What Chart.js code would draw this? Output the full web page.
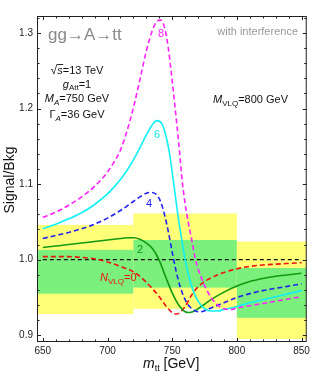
<!DOCTYPE html>
<html>
<head>
<meta charset="utf-8">
<script src="https://cdn.jsdelivr.net/npm/chart.js@4"></script>
<style>
  html, body { margin: 0; padding: 0; background: #fff; }
  canvas { display: block; }
</style>
</head>
<body>
<canvas id="chart" width="313" height="377"></canvas>
<script>
const FONT = '"Liberation Sans", Arial, sans-serif';

// tick labels
const xTicks = [650, 700, 750, 800, 850];
const yTicks = [0.9, 1.0, 1.1, 1.2, 1.3];

// expected background bands (1 sigma green, 2 sigma yellow), per m_tt bin
const binEdges = [645.5, 720, 800, 854];
const yellowLo = [0.928, 0.935, 0.895];
const yellowHi = [1.046, 1.061, 1.024];
const greenLo  = [0.955, 0.963, 0.923];
const greenHi  = [1.013, 1.026, 0.989];

// N_VLQ = 8
const m8 = [650,660,670,680,690,700,705,710,715,720,725,730,735,738,741,744,747,749,752,755,758,761,765,768,770,775,780,785,790,795,800,810,820,830,840,850];
const s8 = [1.056,1.063,1.072,1.083,1.097,1.116,1.129,1.145,1.170,1.201,1.238,1.276,1.305,1.315,1.317,1.308,1.280,1.252,1.205,1.155,1.100,1.063,1.027,1.000,0.988,0.966,0.950,0.940,0.935,0.934,0.936,0.939,0.942,0.945,0.948,0.951];

// N_VLQ = 6
const m6 = [650,660,670,680,690,700,705,710,715,720,725,730,734,738,742,745,748,751,755,758,760,763,766,770,775,780,785,790,800,810,820,830,840,850];
const s6 = [1.041,1.047,1.054,1.062,1.073,1.087,1.096,1.106,1.118,1.132,1.148,1.165,1.177,1.184,1.180,1.165,1.140,1.103,1.052,1.020,1.000,0.977,0.960,0.945,0.935,0.932,0.932,0.934,0.938,0.943,0.947,0.951,0.955,0.959];

// N_VLQ = 4
const m4 = [650,660,670,680,690,700,710,720,725,730,734,738,741,744,747,750,753,756,760,764,768,772,776,780,790,800,810,820,830,840,850];
const s4 = [1.028,1.032,1.036,1.041,1.047,1.055,1.065,1.077,1.083,1.088,1.089,1.086,1.077,1.060,1.037,1.010,0.985,0.965,0.947,0.937,0.932,0.931,0.933,0.936,0.943,0.950,0.955,0.959,0.962,0.965,0.968];

// N_VLQ = 2
const m2 = [650,660,670,680,690,700,710,715,720,725,730,735,740,745,750,755,760,763,766,770,775,780,790,800,810,820,830,840,850];
const s2 = [1.016,1.018,1.020,1.022,1.024,1.026,1.028,1.029,1.029,1.027,1.022,1.014,0.999,0.977,0.956,0.940,0.931,0.930,0.931,0.935,0.941,0.947,0.957,0.965,0.971,0.975,0.978,0.980,0.982];

// N_VLQ = 0
const m0 = [650,660,670,680,690,700,710,720,725,730,735,740,745,750,753,756,760,765,770,775,780,790,800,810,820,830,840,850];
const s0 = [1.004,1.004,1.004,1.003,1.001,0.997,0.991,0.984,0.978,0.970,0.961,0.951,0.939,0.930,0.928,0.930,0.938,0.953,0.964,0.971,0.976,0.983,0.988,0.991,0.993,0.994,0.995,0.996];

// reference line
const mRef = [650, 850];
const sRef = [1.0, 1.0];

function pts(xs, ys) {
  return xs.map((x, i) => ({ x: x, y: ys[i] }));
}

function curve(xs, ys, color, dashed) {
  return {
    data: pts(xs, ys),
    borderColor: color,
    borderWidth: 1.6,
    borderDash: dashed ? [5, 3] : [],
    pointRadius: 0,
    fill: false,
    cubicInterpolationMode: "monotone",
  };
}

// draw a line of text made of pieces [text, font, dy]
function rich(ctx, x, y, parts, align, color) {
  let w = 0;
  parts.forEach(p => { ctx.font = p[1]; w += ctx.measureText(p[0]).width; });
  let cx = align === "center" ? x - w / 2 : align === "right" ? x - w : x;
  ctx.fillStyle = color;
  ctx.textAlign = "left";
  ctx.textBaseline = "alphabetic";
  const starts = [];
  parts.forEach(p => {
    ctx.font = p[1];
    starts.push(cx);
    ctx.fillText(p[0], cx, y + (p[2] || 0));
    cx += ctx.measureText(p[0]).width;
  });
  starts.push(cx);
  return starts;
}

const bandsPlugin = {
  id: "bands",
  beforeDatasetsDraw(chart) {
    const { ctx, chartArea, scales: { x, y } } = chart;
    ctx.save();
    ctx.beginPath();
    ctx.rect(chartArea.left, chartArea.top, chartArea.right - chartArea.left, chartArea.bottom - chartArea.top);
    ctx.clip();
    for (let i = 0; i < binEdges.length - 1; i++) {
      const x0 = x.getPixelForValue(binEdges[i]);
      const x1 = x.getPixelForValue(binEdges[i + 1]);
      ctx.fillStyle = "#ffff78";
      ctx.fillRect(x0, y.getPixelForValue(yellowHi[i]), x1 - x0, y.getPixelForValue(yellowLo[i]) - y.getPixelForValue(yellowHi[i]));
      ctx.fillStyle = "#7cf07c";
      ctx.fillRect(x0, y.getPixelForValue(greenHi[i]), x1 - x0, y.getPixelForValue(greenLo[i]) - y.getPixelForValue(greenHi[i]));
    }
    ctx.restore();
  },
};

const framePlugin = {
  id: "frame",
  afterDatasetsDraw(chart) {
    const { ctx, chartArea: a, scales: { x, y } } = chart;
    ctx.save();
    ctx.strokeStyle = "#222";
    ctx.lineWidth = 1;
    ctx.strokeRect(a.left + 0.5, a.top + 0.5, a.right - a.left - 1, a.bottom - a.top - 1);
    ctx.beginPath();
    // x ticks, bottom and top, pointing inward
    for (let v = 650; v <= 850; v += 10) {
      const len = v % 50 === 0 ? 4 : 2.5;
      const px = Math.round(x.getPixelForValue(v)) + 0.5;
      ctx.moveTo(px, a.bottom); ctx.lineTo(px, a.bottom - len);
      ctx.moveTo(px, a.top); ctx.lineTo(px, a.top + len);
    }
    // y ticks, left and right
    for (let k = 45; k <= 66; k++) {
      const v = k * 0.02;
      const len = k % 5 === 0 ? 4 : 2.5;
      const py = Math.round(y.getPixelForValue(v)) + 0.5;
      ctx.moveTo(a.left, py); ctx.lineTo(a.left + len, py);
      ctx.moveTo(a.right, py); ctx.lineTo(a.right - len, py);
    }
    ctx.stroke();
    ctx.restore();
  },
};

const textPlugin = {
  id: "texts",
  afterDraw(chart) {
    const ctx = chart.ctx;
    const n = size => size + "px " + FONT;
    const it = size => "italic " + size + "px " + FONT;
    ctx.save();

    rich(ctx, 48, 40, [["gg\u2192A\u2192tt", n(17)]], "left", "#8a8a8a");
    rich(ctx, 298, 35, [["with interference", n(11)]], "right", "#999");

    const s = rich(ctx, 77, 74, [["\u221a", n(12)], ["s", it(11)], ["=13 TeV", n(11)]], "center", "#111");
    ctx.strokeStyle = "#111";
    ctx.lineWidth = 0.9;
    ctx.beginPath();
    ctx.moveTo(s[1] - 0.5, 64.5);
    ctx.lineTo(s[2] + 0.5, 64.5);
    ctx.stroke();

    rich(ctx, 77, 88, [["g", it(11)], ["Att", n(8), 2], ["=1", n(11)]], "center", "#111");
    rich(ctx, 77, 102, [["M", it(11)], ["A", it(8), 3], ["=750 GeV", n(11)]], "center", "#111");
    rich(ctx, 77, 118, [["\u0393", n(11)], ["A", it(8), 3], ["=36 GeV", n(11)]], "center", "#111");
    rich(ctx, 213, 103, [["M", it(11)], ["VLQ", n(8), 3], ["=800 GeV", n(11)]], "left", "#111");

    rich(ctx, 100, 281, [["N", it(11)], ["VLQ", n(8), 3], ["=0", n(11)]], "left", "#ee1111");
    rich(ctx, 161, 37, [["8", n(11)]], "center", "#ff22ff");
    rich(ctx, 157, 138, [["6", n(11)]], "center", "#11e8f0");
    rich(ctx, 149, 207, [["4", n(11)]], "center", "#2222ee");
    rich(ctx, 140, 253, [["2", n(11)]], "center", "#119911");

    // axis titles
    rich(ctx, 143, 368, [["m", it(14)], ["tt", n(9), 3], [" [GeV]", n(14)]], "left", "#111");
    ctx.translate(14, 180);
    ctx.rotate(-Math.PI / 2);
    rich(ctx, 0, 0, [["Signal/Bkg", n(14)]], "center", "#111");

    ctx.restore();
  },
};

new Chart(document.getElementById("chart"), {
  type: "line",
  data: {
    datasets: [
      curve(m8, s8, "#ff22ff", true),
      curve(m6, s6, "#11f0f5", false),
      curve(m4, s4, "#2222ee", true),
      curve(m2, s2, "#119911", false),
      curve(m0, s0, "#ee1111", true),
      {
        data: pts(mRef, sRef),
        borderColor: "#111",
        borderWidth: 1.1,
        borderDash: [4, 3],
        pointRadius: 0,
        fill: false,
      },
    ],
  },
  options: {
    responsive: false,
    animation: false,
    layout: { padding: { top: 16, right: 5, left: 0, bottom: 0 } },
    plugins: { legend: { display: false }, tooltip: { enabled: false } },
    scales: {
      x: {
        type: "linear",
        min: 645.5,
        max: 854,
        afterFit: s => { s.height = 35; },
        afterBuildTicks: s => { s.ticks = xTicks.map(v => ({ value: v })); },
        grid: { display: false, drawTicks: false },
        border: { display: false },
        ticks: {
          font: { size: 10, family: FONT },
          color: "#222",
          padding: 3,
          maxRotation: 0,
          autoSkip: false,
          callback: v => String(v),
        },
      },
      y: {
        type: "linear",
        min: 0.891,
        max: 1.3225,
        afterFit: s => { s.width = 37; },
        afterBuildTicks: s => { s.ticks = yTicks.map(v => ({ value: v })); },
        grid: { display: false, drawTicks: false },
        border: { display: false },
        ticks: {
          font: { size: 10, family: FONT },
          color: "#222",
          padding: 4,
          callback: v => v.toFixed(1),
        },
      },
    },
  },
  plugins: [bandsPlugin, framePlugin, textPlugin],
});
</script>
</body>
</html>
